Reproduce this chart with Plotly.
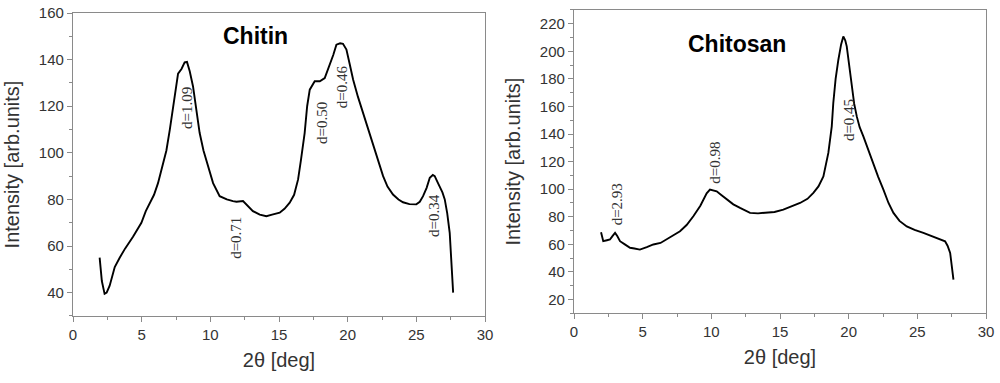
import plotly.graph_objects as go

# ---- Chitin (left panel) ----
chitin_2theta = [1.94, 2.1, 2.3, 2.45, 2.67, 2.85, 3.04, 3.4, 3.8, 4.37, 4.7, 4.98, 5.3, 5.59, 5.9,
                 6.19, 6.5, 6.8, 7.05, 7.28, 7.5, 7.65, 7.9, 8.13, 8.3, 8.5, 8.74, 9.0, 9.22, 9.5,
                 9.83, 10.2, 10.68, 11.2, 11.65, 11.9, 12.38, 12.8, 13.1, 13.6, 14.08, 14.5, 15.05,
                 15.4, 15.78, 16.1, 16.39, 16.6, 16.87, 17.05, 17.24, 17.6, 17.97, 18.33, 18.7,
                 18.95, 19.18, 19.45, 19.66, 19.91, 20.15, 20.4, 20.75, 21.12, 21.5, 21.85, 22.2,
                 22.58, 22.9, 23.3, 23.7, 24.03, 24.5, 25.0, 25.25, 25.49, 25.75, 25.98, 26.2,
                 26.34, 26.5, 26.7, 26.9, 27.07, 27.25, 27.43, 27.55, 27.68]
chitin_intensity = [55, 45, 39.5, 40, 43, 47, 51, 55, 59, 64, 67, 70, 75, 78.5, 82,
                    87, 94, 101, 110, 118.5, 127, 134, 136, 138.8, 139, 135, 128.5, 118, 108.6, 101,
                    94.3, 87, 81.4, 80, 79.3, 79, 79.3, 77, 75, 73.5, 72.8, 73.5, 74.3,
                    76, 78.6, 82, 88.6, 97, 108.6, 120, 127.1, 130.7, 130.7, 132.1, 137.8,
                    142, 146.4, 147, 146.8, 144.3, 138, 131.4, 124, 117.1, 110, 104.3, 97,
                    90, 85.5, 82.1, 80, 78.8, 78, 77.9, 79, 81.4, 85, 89.3, 90.5,
                    90, 88, 85.7, 83, 80, 74, 65.7, 55, 40]

chitin_labels = ["d=1.09", "d=0.71", "d=0.50", "d=0.46", "d=0.34"]
chitin_label_x = [8.26, 11.9, 18.09, 19.55, 26.34]
chitin_label_y = [119.4, 63.7, 113, 128.4, 73.2]

# ---- Chitosan (right panel) ----
chitosan_2theta = [1.97, 2.13, 2.4, 2.62, 2.8, 2.99, 3.15, 3.35, 3.7, 4.08, 4.4, 4.8, 5.3, 5.78,
                   6.3, 6.75, 7.2, 7.72, 8.2, 8.69, 9.2, 9.66, 9.9, 10.15, 10.39, 10.7, 11.12,
                   11.6, 12.09, 12.82, 13.4, 14.03, 14.6, 15.24, 15.9, 16.46, 17.0, 17.43, 17.8,
                   18.16, 18.52, 18.77, 18.88, 19.05, 19.25, 19.45, 19.61, 19.75, 19.86, 20.05,
                   20.22, 20.4, 20.59, 20.8, 21.07, 21.4, 21.8, 22.15, 22.53, 22.9, 23.26, 23.7,
                   24.23, 24.8, 25.44, 26.0, 26.66, 27.02, 27.2, 27.39, 27.5, 27.63]
chitosan_intensity = [68.8, 62.3, 63, 63.5, 66, 68.3, 66, 62.3, 60, 57.5, 57, 56.2, 58, 59.9,
                      61, 63.5, 66, 69.5, 74, 80.4, 88, 97, 99.7, 99, 98.5, 96, 92.5,
                      89, 86.4, 82.8, 82.5, 82.8, 83.5, 85.2, 87.5, 90, 93, 97.3, 102,
                      109.3, 126.3, 145.6, 162.5, 180, 193.9, 205, 210.8, 208, 203.6, 190,
                      174.6, 162, 152.8, 145, 138.3, 129, 119, 109, 99.7, 90, 82.8, 77,
                      73, 70.5, 68.3, 66, 63.5, 62.2, 59, 53.8, 45, 34.5]

chitosan_labels = ["d=2.93", "d=0.98", "d=0.45"]
chitosan_label_x = [3.11, 10.27, 19.98]
chitosan_label_y = [88.8, 119.3, 150.4]

panel_titles = ["Chitin", "Chitosan"]
x_title = "2θ [deg]"
y_title = "Intensity [arb.units]"

fig = go.Figure()
fig.add_trace(go.Scatter(x=chitin_2theta, y=chitin_intensity, mode="lines",
                         line=dict(color="black", width=1.9), xaxis="x", yaxis="y",
                         showlegend=False))
fig.add_trace(go.Scatter(x=chitosan_2theta, y=chitosan_intensity, mode="lines",
                         line=dict(color="black", width=1.9), xaxis="x2", yaxis="y2",
                         showlegend=False))

axis_common = dict(showline=True, linecolor="#8a8a8a", linewidth=1.2, mirror=True,
                   ticks="outside", ticklen=5, tickcolor="#8a8a8a", tickwidth=1.2,
                   showgrid=False, zeroline=False, automargin=False,
                   ticklabeloverflow="allow",
                   tickfont=dict(family="Liberation Sans, Arial", size=15, color="#333333"),
                   title_font=dict(family="Liberation Sans, Arial", size=20, color="#333333"))

minor_x = dict(ticks="outside", ticklen=3, tickcolor="#8a8a8a", dtick=2.5, showgrid=False)
minor_y = dict(ticks="outside", ticklen=3, tickcolor="#8a8a8a", dtick=10, showgrid=False)

fig.update_layout(
    width=1000, height=383,
    margin=dict(l=0, r=0, t=0, b=0),
    paper_bgcolor="white", plot_bgcolor="white",
    xaxis=dict(domain=[0.073, 0.485], range=[0, 30], dtick=5, tick0=0, anchor="y",
               minor=minor_x, title=dict(text=x_title, standoff=10), **axis_common),
    yaxis=dict(domain=[0.175, 0.966], range=[30, 160], dtick=20, tick0=0, anchor="x",
               minor=minor_y, title=dict(text=y_title, standoff=13), **axis_common),
    xaxis2=dict(domain=[0.574, 0.986], range=[0, 30], dtick=5, tick0=0, anchor="y2",
                minor=minor_x, title=dict(text=x_title, standoff=10), **axis_common),
    yaxis2=dict(domain=[0.182, 0.974], range=[10, 230], dtick=20, tick0=0, anchor="x2",
                minor=minor_y, title=dict(text=y_title, standoff=13), **axis_common),
)

annos = []
for t, x, y in zip(chitin_labels, chitin_label_x, chitin_label_y):
    annos.append(dict(text=t, x=x, y=y, xref="x", yref="y", showarrow=False, textangle=-90,
                      font=dict(family="Liberation Serif, Times New Roman", size=15, color="#333333")))
for t, x, y in zip(chitosan_labels, chitosan_label_x, chitosan_label_y):
    annos.append(dict(text=t, x=x, y=y, xref="x2", yref="y2", showarrow=False, textangle=-90,
                      font=dict(family="Liberation Serif, Times New Roman", size=15, color="#333333")))
annos.append(dict(text="<b>" + panel_titles[0] + "</b>", x=13.3, y=150, xref="x", yref="y",
                  showarrow=False, font=dict(family="Liberation Sans, Arial", size=23, color="black")))
annos.append(dict(text="<b>" + panel_titles[1] + "</b>", x=11.9, y=205, xref="x2", yref="y2",
                  showarrow=False, font=dict(family="Liberation Sans, Arial", size=23, color="black")))
fig.update_layout(annotations=annos)

fig.write_html("out.html", config={"displayModeBar": False},
               post_script="document.body.style.margin='0';")
